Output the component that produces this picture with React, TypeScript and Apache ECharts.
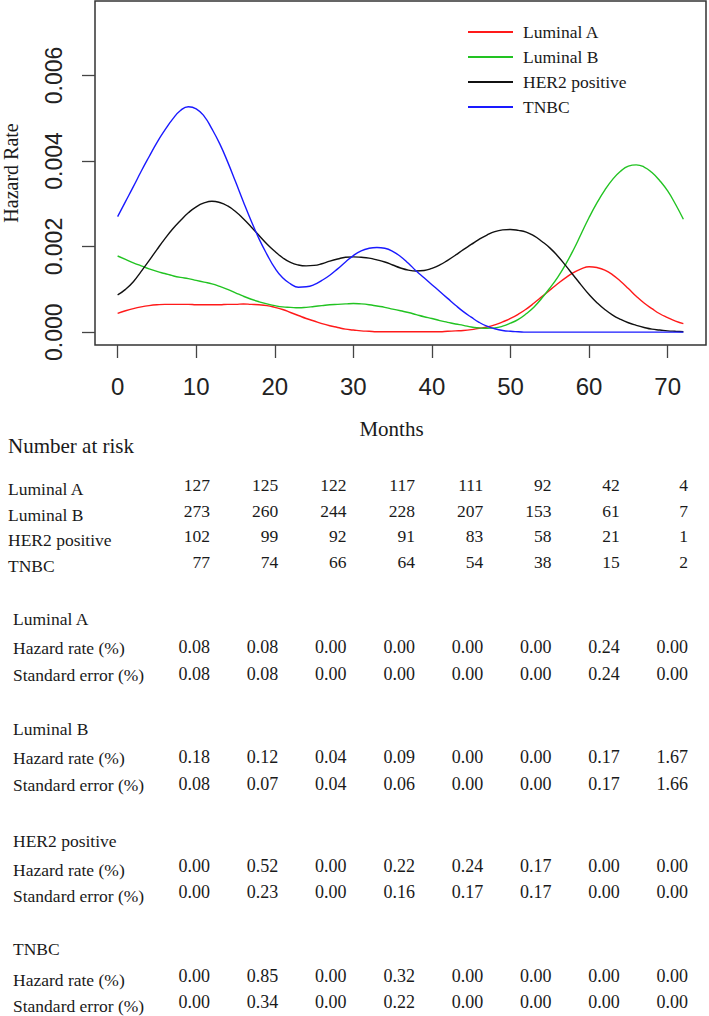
import React, { useEffect, useRef } from "react";
import * as echarts from "echarts";

// ---------------- data ----------------
const months = [0, 1, 2, 3, 4, 5, 6, 7, 8, 9, 10, 11, 12, 13, 14, 15, 16, 17, 18, 19, 20, 21, 22, 23, 24, 25, 26, 27, 28, 29, 30, 31, 32, 33, 34, 35, 36, 37, 38, 39, 40, 41, 42, 43, 44, 45, 46, 47, 48, 49, 50, 51, 52, 53, 54, 55, 56, 57, 58, 59, 60, 61, 62, 63, 64, 65, 66, 67, 68, 69, 70, 71, 72];

const luminalA = [0.00044, 0.0005, 0.00055, 0.00059, 0.00062, 0.00064, 0.00065, 0.00065, 0.00065, 0.00065, 0.00064, 0.00064, 0.00064, 0.00064, 0.00065, 0.00065, 0.00066, 0.00065, 0.00064, 0.00062, 0.00058, 0.00053, 0.00046, 0.00039, 0.00032, 0.00026, 0.0002, 0.00015, 0.00011, 0.00007, 0.00005, 0.00003, 0.00002, 0.00001, 0.00001, 0.00001, 0.00001, 0.00001, 0.00001, 0.00001, 0.00001, 0.00001, 0.00002, 0.00003, 0.00004, 0.00006, 0.00009, 0.00012, 0.00017, 0.00024, 0.00032, 0.00042, 0.00054, 0.00068, 0.00083, 0.00098, 0.00113, 0.00127, 0.00139, 0.00148, 0.00153, 0.00151, 0.00145, 0.00134, 0.00119, 0.00102, 0.00084, 0.00068, 0.00055, 0.00043, 0.00034, 0.00026, 0.0002];

const luminalB = [0.00178, 0.0017, 0.00162, 0.00155, 0.00148, 0.00142, 0.00137, 0.00132, 0.00128, 0.00125, 0.00121, 0.00117, 0.00113, 0.00107, 0.001, 0.00092, 0.00084, 0.00077, 0.00071, 0.00066, 0.00062, 0.00059, 0.00058, 0.00057, 0.00058, 0.0006, 0.00062, 0.00064, 0.00065, 0.00066, 0.00067, 0.00066, 0.00064, 0.00061, 0.00058, 0.00054, 0.0005, 0.00046, 0.00041, 0.00036, 0.00032, 0.00027, 0.00023, 0.00019, 0.00016, 0.00012, 0.0001, 0.00009, 0.0001, 0.00014, 0.00021, 0.0003, 0.00043, 0.00059, 0.0008, 0.00103, 0.00128, 0.00158, 0.00192, 0.0023, 0.00268, 0.00302, 0.00332, 0.00357, 0.00376, 0.00388, 0.00391, 0.00386, 0.00373, 0.00354, 0.0033, 0.00299, 0.00264];

const her2Positive = [0.00087, 0.001, 0.00118, 0.00142, 0.00167, 0.00193, 0.00218, 0.00241, 0.00261, 0.00279, 0.00293, 0.00302, 0.00306, 0.00303, 0.00295, 0.00282, 0.00265, 0.00246, 0.00226, 0.00206, 0.00189, 0.00174, 0.00163, 0.00157, 0.00155, 0.00156, 0.0016, 0.00166, 0.00171, 0.00175, 0.00176, 0.00175, 0.00173, 0.00169, 0.00164, 0.00157, 0.0015, 0.00145, 0.00143, 0.00144, 0.00149, 0.00157, 0.00168, 0.0018, 0.00193, 0.00205, 0.00217, 0.00227, 0.00235, 0.00239, 0.0024, 0.00238, 0.00234, 0.00225, 0.00212, 0.00197, 0.00178, 0.00156, 0.00133, 0.0011, 0.00088, 0.00069, 0.00053, 0.0004, 0.0003, 0.00022, 0.00016, 0.00011, 0.00007, 0.00005, 0.00003, 0.00002, 0.00001];

const tnbc = [0.0027, 0.00305, 0.0034, 0.00376, 0.0041, 0.00443, 0.00472, 0.00498, 0.00518, 0.00527, 0.00522, 0.00505, 0.00475, 0.0044, 0.00398, 0.00352, 0.00305, 0.0026, 0.00218, 0.00182, 0.0015, 0.00127, 0.00113, 0.00105, 0.00106, 0.00111, 0.00121, 0.00133, 0.00148, 0.00164, 0.00179, 0.0019, 0.00196, 0.00198, 0.00196, 0.00189, 0.00177, 0.00161, 0.00143, 0.00127, 0.00111, 0.00095, 0.00079, 0.00063, 0.00048, 0.00035, 0.00023, 0.00014, 0.00008, 0.00004, 0.00002, 0.00001, 0, 0, 0, 0, 0, 0, 0, 0, 0, 0, 0, 0, 0, 0, 0, 0, 0, 0, 0, 0, 0];

const seriesNames = ["Luminal A", "Luminal B", "HER2 positive", "TNBC"];
const seriesColors = ["#ff1a1a", "#22c322", "#111111", "#1a1aff"];

const xTicks = [0, 10, 20, 30, 40, 50, 60, 70];
const yTicks = [0, 0.002, 0.004, 0.006];

const riskTitle = "Number at risk";
const riskLabels = ["Luminal A", "Luminal B", "HER2 positive", "TNBC"];
const riskLuminalA = [127, 125, 122, 117, 111, 92, 42, 4];
const riskLuminalB = [273, 260, 244, 228, 207, 153, 61, 7];
const riskHER2 = [102, 99, 92, 91, 83, 58, 21, 1];
const riskTNBC = [77, 74, 66, 64, 54, 38, 15, 2];

const hrLabel = "Hazard rate (%)";
const seLabel = "Standard error (%)";
const hrLuminalA = ["0.08", "0.08", "0.00", "0.00", "0.00", "0.00", "0.24", "0.00"];
const seLuminalA = ["0.08", "0.08", "0.00", "0.00", "0.00", "0.00", "0.24", "0.00"];
const hrLuminalB = ["0.18", "0.12", "0.04", "0.09", "0.00", "0.00", "0.17", "1.67"];
const seLuminalB = ["0.08", "0.07", "0.04", "0.06", "0.00", "0.00", "0.17", "1.66"];
const hrHER2 = ["0.00", "0.52", "0.00", "0.22", "0.24", "0.17", "0.00", "0.00"];
const seHER2 = ["0.00", "0.23", "0.00", "0.16", "0.17", "0.17", "0.00", "0.00"];
const hrTNBC = ["0.00", "0.85", "0.00", "0.32", "0.00", "0.00", "0.00", "0.00"];
const seTNBC = ["0.00", "0.34", "0.00", "0.22", "0.00", "0.00", "0.00", "0.00"];

// ---------------- layout ----------------
const W = 709;
const H = 1016;
const SERIF = "'Liberation Serif', 'Times New Roman', serif";
const SANS = "'Liberation Sans', Arial, sans-serif";
const colRight = (i: number) => 210 + 68.3 * i;

function textEl(text: string, x: number, y: number, size: number, align: string = "left") {
  return {
    type: "text",
    x,
    y,
    silent: true,
    style: {
      text,
      fill: "#1a1a1a",
      font: `${size}px ${SERIF}`,
      textAlign: align,
      textVerticalAlign: "middle",
    },
  };
}

function buildTable() {
  const els: any[] = [];
  els.push(textEl(riskTitle, 8, 446, 21));
  const riskRows = [riskLuminalA, riskLuminalB, riskHER2, riskTNBC];
  const riskY = [489, 514.5, 540, 566];
  riskRows.forEach((row, r) => {
    els.push(textEl(riskLabels[r], 8, riskY[r], 17.5));
    row.forEach((v, i) => els.push(textEl(String(v), colRight(i), riskY[r] - 4, 17.5, "right")));
  });

  const blocks = [
    { name: "Luminal A", hr: hrLuminalA, se: seLuminalA, y: [619, 648, 675], off: 1.5 },
    { name: "Luminal B", hr: hrLuminalB, se: seLuminalB, y: [729, 758, 785], off: 1 },
    { name: "HER2 positive", hr: hrHER2, se: seHER2, y: [841, 870, 896], off: 4.5 },
    { name: "TNBC", hr: hrTNBC, se: seTNBC, y: [949, 980, 1006], off: 4.5 },
  ];
  blocks.forEach((b) => {
    els.push(textEl(b.name, 13, b.y[0], 17.5));
    els.push(textEl(hrLabel, 13, b.y[1], 17.5));
    els.push(textEl(seLabel, 13, b.y[2], 17.5));
    b.hr.forEach((v, i) => els.push(textEl(v, colRight(i), b.y[1] - b.off, 18, "right")));
    b.se.forEach((v, i) => els.push(textEl(v, colRight(i), b.y[2] - b.off, 18, "right")));
  });
  return els;
}

export default function App() {
  const ref = useRef<HTMLDivElement>(null);

  useEffect(() => {
    if (!ref.current) return;
    const chart = echarts.init(ref.current, undefined, { renderer: "svg", width: W, height: H });
    const allSeries = [luminalA, luminalB, her2Positive, tnbc];

    chart.setOption({
      animation: false,
      backgroundColor: "#ffffff",
      grid: {
        left: 95,
        right: 3,
        top: 1,
        bottom: H - 345,
        containLabel: false,
        outerBoundsMode: "none",
        show: true,
        borderColor: "#333",
        borderWidth: 1.5,
        backgroundColor: "transparent",
      },
      legend: {
        orient: "vertical",
        left: 463,
        top: 18,
        itemWidth: 45,
        itemHeight: 2,
        itemGap: 7,
        icon: "rect",
        data: seriesNames,
        textStyle: {
          fontFamily: SERIF,
          fontSize: 17.5,
          color: "#1a1a1a",
          padding: [0, 0, 0, 5],
        },
      },
      xAxis: {
        type: "value",
        min: -2.88,
        max: 74.88,
        name: "Months",
        nameLocation: "middle",
        nameGap: 73,
        nameTextStyle: {
          fontFamily: SERIF,
          fontSize: 21,
          color: "#1a1a1a",
          padding: [0, 18, 0, 0],
        },
        splitLine: { show: false },
        axisLine: { show: false, onZero: false },
        axisTick: {
          show: true,
          length: 13,
          inside: false,
          customValues: xTicks,
          lineStyle: { color: "#444", width: 1.3 },
        },
        axisLabel: {
          customValues: xTicks,
          margin: 29,
          fontFamily: SANS,
          fontSize: 24,
          color: "#222",
        },
      },
      yAxis: {
        type: "value",
        min: -0.0003,
        max: 0.00774,
        name: "Hazard Rate",
        nameLocation: "middle",
        nameRotate: 90,
        nameGap: 74,
        nameTextStyle: {
          fontFamily: SERIF,
          fontSize: 20,
          color: "#1a1a1a",
        },
        splitLine: { show: false },
        axisLine: { show: false, onZero: false },
        axisTick: {
          show: true,
          length: 13,
          inside: false,
          customValues: yTicks,
          lineStyle: { color: "#444", width: 1.3 },
        },
        axisLabel: {
          customValues: yTicks,
          rotate: 90,
          margin: 30,
          fontFamily: SANS,
          fontSize: 23,
          color: "#222",
          formatter: (v: number) => v.toFixed(3),
        },
      },
      series: allSeries.map((vals, k) => ({
        name: seriesNames[k],
        type: "line",
        data: months.map((m, i) => [m, vals[i]]),
        smooth: 0.5,
        showSymbol: false,
        symbol: "none",
        color: seriesColors[k],
        lineStyle: { color: seriesColors[k], width: 1.4 },
        z: 3,
      })),
      graphic: buildTable(),
    });

    return () => {
      chart.dispose();
    };
  }, []);

  return (
    <div
      ref={ref}
      style={{ position: "fixed", left: 0, top: 0, width: W, height: H, background: "#fff" }}
    />
  );
}
